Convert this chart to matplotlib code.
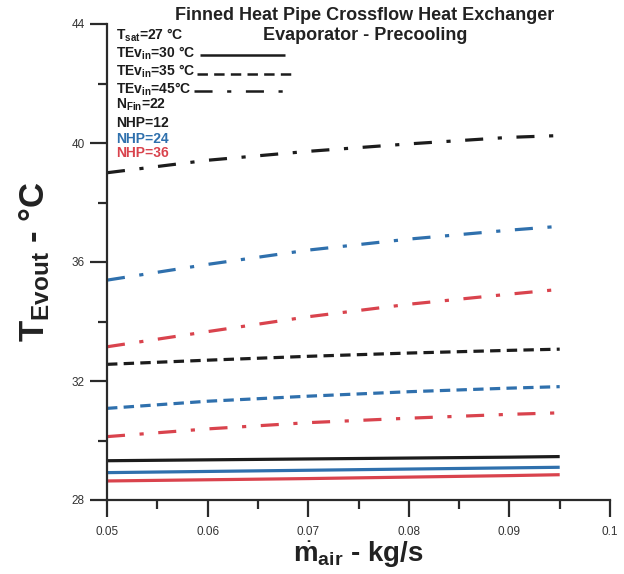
import matplotlib
matplotlib.use('Agg')
import matplotlib.pyplot as plt
from matplotlib.lines import Line2D
from matplotlib.ticker import MultipleLocator, FixedLocator, FixedFormatter

plt.rcParams['font.family'] = ['Liberation Sans', 'DejaVu Sans']
plt.rcParams['mathtext.fontset'] = 'custom'
plt.rcParams['mathtext.rm'] = 'Liberation Sans'
plt.rcParams['mathtext.bf'] = 'Liberation Sans:bold'
plt.rcParams['mathtext.it'] = 'Liberation Sans:italic'
plt.rcParams['lines.scale_dashes'] = False

# ---------------- data ----------------
mdot_air = [0.05, 0.06, 0.07, 0.08, 0.09, 0.095]

# TEv_in = 30 C
t30_nhp12 = [29.32, 29.35, 29.38, 29.41, 29.44, 29.46]
t30_nhp24 = [28.92, 28.96, 29.00, 29.04, 29.08, 29.10]
t30_nhp36 = [28.64, 28.68, 28.72, 28.77, 28.82, 28.85]
# TEv_in = 35 C
t35_nhp12 = [32.56, 32.70, 32.83, 32.94, 33.03, 33.07]
t35_nhp24 = [31.08, 31.32, 31.49, 31.64, 31.76, 31.81]
t35_nhp36 = [30.13, 30.39, 30.60, 30.75, 30.88, 30.93]
# TEv_in = 45 C
t45_nhp12 = [39.00, 39.42, 39.72, 39.97, 40.19, 40.25]
t45_nhp24 = [35.39, 35.92, 36.40, 36.77, 37.07, 37.20]
t45_nhp36 = [33.15, 33.66, 34.16, 34.58, 34.92, 35.08]

x_ticks = [0.05, 0.06, 0.07, 0.08, 0.09, 0.1]
x_ticklabels = ['0.05', '0.06', '0.07', '0.08', '0.09', '0.1']
y_ticks = [28, 32, 36, 40, 44]
y_ticklabels = ['28', '32', '36', '40', '44']

legend_lines = [r'T$_{\mathbf{sat}}$=27 °C', r'TEv$_{\mathbf{in}}$=30 °C',
                r'TEv$_{\mathbf{in}}$=35 °C', r'TEv$_{\mathbf{in}}$=45°C',
                r'N$_{\mathbf{Fin}}$=22', 'NHP=12', 'NHP=24', 'NHP=36']

# ---------------- styles ----------------
BLACK = '#1c1c1c'
BLUE = '#2f70ad'
RED = '#d9434d'
SOLID = (0, ())
DASHED = (0, (7.5, 4.5))
DASHDOT = (0, (13, 10.5, 3, 10.5))

series = [
    (t30_nhp12, BLACK, SOLID), (t30_nhp24, BLUE, SOLID), (t30_nhp36, RED, SOLID),
    (t35_nhp12, BLACK, DASHED), (t35_nhp24, BLUE, DASHED), (t35_nhp36, RED, DASHDOT),
    (t45_nhp12, BLACK, DASHDOT), (t45_nhp24, BLUE, DASHDOT), (t45_nhp36, RED, DASHDOT),
]

W, H = 624, 574
fig = plt.figure(figsize=(W / 100, H / 100), dpi=100)
ax = fig.add_axes([107 / W, 1 - 500 / H, (610 - 107) / W, (500 - 24) / H])

for vals, col, ls in series:
    ax.plot(mdot_air, vals, color=col, linestyle=ls, linewidth=2.3,
            solid_capstyle='butt', dash_capstyle='butt')

ax.set_xlim(0.05, 0.1)
ax.set_ylim(28, 44)
ax.xaxis.set_major_locator(FixedLocator(x_ticks))
ax.xaxis.set_major_formatter(FixedFormatter(x_ticklabels))
ax.xaxis.set_minor_locator(MultipleLocator(0.005))
ax.yaxis.set_major_locator(FixedLocator(y_ticks))
ax.yaxis.set_major_formatter(FixedFormatter(y_ticklabels))
ax.yaxis.set_minor_locator(MultipleLocator(2))

for s in ['top', 'right']:
    ax.spines[s].set_visible(False)
for s in ['left', 'bottom']:
    ax.spines[s].set_linewidth(1.6)
    ax.spines[s].set_color('#2a2a2a')

ax.tick_params(which='major', length=12, width=1.6, color='#2a2a2a',
               labelsize=8.5, labelcolor='#333333')
ax.tick_params(which='minor', length=6.5, width=1.6, color='#2a2a2a')
ax.tick_params(axis='x', which='major', pad=7)
ax.tick_params(axis='y', which='major', pad=4)

ax.set_xlabel(r'$\dot{\mathbf{m}}_{\mathbf{air}}$ - kg/s', fontsize=20,
              fontweight='bold', labelpad=1, color='#222222')
ax.set_ylabel(r'$\mathbf{T}_{\mathbf{Evout}}$ - °C', fontsize=25,
              fontweight='bold', labelpad=14, color='#222222')

def fx(px):
    return px / W

def fy(py):
    return 1 - py / H

fig.text(fx(365), fy(20), 'Finned Heat Pipe Crossflow Heat Exchanger',
         ha='center', va='baseline', fontsize=13, fontweight='bold', color='#222222')
fig.text(fx(365), fy(40), 'Evaporator - Precooling',
         ha='center', va='baseline', fontsize=13, fontweight='bold', color='#222222')

baselines = [40, 58, 76, 94, 109, 127, 143, 157]
text_colors = [BLACK, BLACK, BLACK, BLACK, BLACK, BLACK, BLUE, RED]
for txt, yb, col in zip(legend_lines, baselines, text_colors):
    fig.text(fx(116), fy(yb), txt, ha='left', va='baseline', fontsize=10,
             fontweight='bold', color=col)

keys = [((200, 285), 55, SOLID), ((197, 292), 73.5, DASHED), ((194, 288), 91, DASHDOT)]
for (x0, x1), yk, ls in keys:
    fig.add_artist(Line2D([fx(x0), fx(x1)], [fy(yk), fy(yk)], transform=fig.transFigure,
                          color=BLACK, linestyle=ls, linewidth=1.8,
                          solid_capstyle='butt', dash_capstyle='butt'))

fig.savefig('out.png', dpi=100)
